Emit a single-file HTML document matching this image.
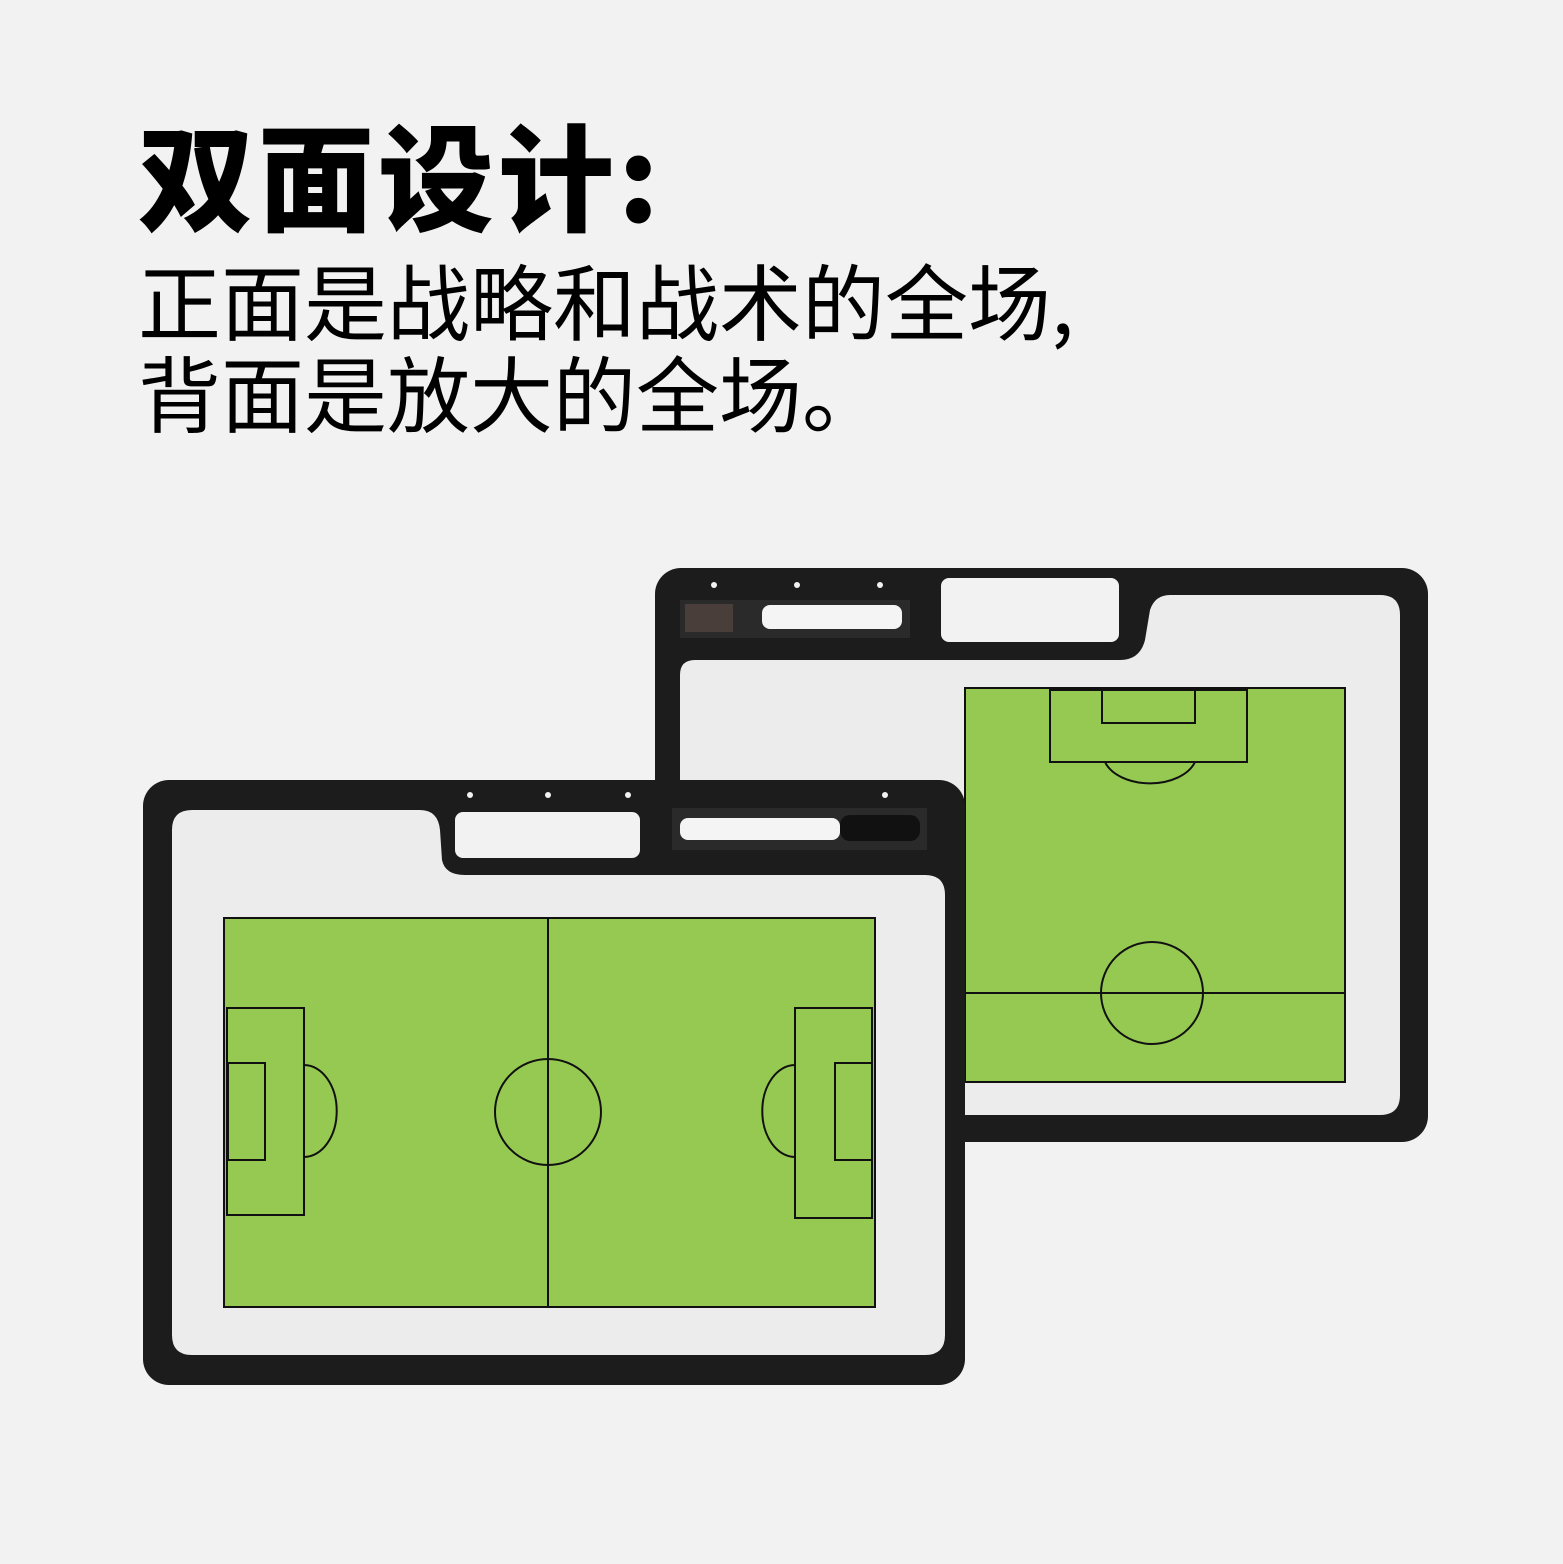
<!DOCTYPE html>
<html><head><meta charset="utf-8"><style>
html,body{margin:0;padding:0;background:#f1f2f1;}
.wrap{position:relative;width:1563px;height:1564px;overflow:hidden;background:#f1f2f1;}
.t1{position:absolute;left:138px;top:114px;font:900 116px "Noto Sans CJK SC","WenQuanYi Zen Hei",sans-serif;color:#000;letter-spacing:4px;line-height:1;}
.t2{position:absolute;left:138px;top:252px;font:400 83px "Noto Sans CJK SC","WenQuanYi Zen Hei",sans-serif;color:#000;line-height:92px;}
svg{position:absolute;left:0;top:0;}
</style></head><body><div class="wrap">
<div class="t1">双面设计:</div>
<div class="t2">正面是战略和战术的全场,<br>背面是放大的全场。</div>
<svg width="1563" height="1564" viewBox="0 0 1563 1564">
<rect x="655" y="568" width="773" height="574" rx="26" fill="#1c1c1c"/>
<path d="M680 675 Q680 660 695 660 L1120 660 Q1140 660 1145 640 L1150 610 Q1155 595 1170 595 L1380 595 Q1400 595 1400 615 L1400 1095 Q1400 1115 1380 1115 L700 1115 Q680 1115 680 1095 Z" fill="#ececec"/>
<rect x="941" y="578" width="178" height="64" rx="8" fill="#f1f2f1"/>
<rect x="680" y="600" width="230" height="38" fill="#2a2a2a"/>
<rect x="762" y="605" width="140" height="24" rx="8" fill="#f4f4f4"/>
<rect x="685" y="604" width="48" height="28" fill="#4a3e3a"/>
<rect x="965" y="688" width="380" height="394" fill="#96c952" stroke="#111" stroke-width="2"/>
<g fill="none" stroke="#111" stroke-width="2">
<line x1="965" y1="993" x2="1345" y2="993"/>
<circle cx="1152" cy="993" r="51"/>
<rect x="1050" y="690" width="197" height="72"/>
<rect x="1102" y="690" width="93" height="33"/>
<path d="M1105 762 A47 30 0 0 0 1195 762"/>
</g>
<rect x="143" y="780" width="822" height="605" rx="26" fill="#1c1c1c"/>
<path d="M172 830 Q172 810 192 810 L420 810 Q438 810 440 830 L442 860 Q445 875 465 875 L925 875 Q945 875 945 895 L945 1335 Q945 1355 925 1355 L192 1355 Q172 1355 172 1335 Z" fill="#ececec"/>
<rect x="455" y="812" width="185" height="46" rx="8" fill="#f1f2f1"/>
<rect x="672" y="808" width="255" height="42" fill="#2a2a2a"/>
<rect x="680" y="818" width="160" height="22" rx="8" fill="#f4f4f4"/>
<rect x="840" y="815" width="80" height="26" rx="10" fill="#111"/>
<rect x="224" y="918" width="651" height="389" fill="#96c952" stroke="#111" stroke-width="2"/>
<g fill="none" stroke="#111" stroke-width="2">
<line x1="548" y1="918" x2="548" y2="1307"/>
<circle cx="548" cy="1112" r="53"/>
<rect x="227" y="1008" width="77" height="207"/>
<rect x="228" y="1063" width="37" height="97"/>
<path d="M304 1065 A32 45 0 0 1 304 1157"/>
<rect x="795" y="1008" width="77" height="210"/>
<rect x="835" y="1063" width="37" height="97"/>
<path d="M795 1065 A32 45 0 0 0 795 1157"/>
</g>
<g fill="#f1f2f1">
<circle cx="470" cy="795" r="3"/><circle cx="548" cy="795" r="3"/><circle cx="628" cy="795" r="3"/><circle cx="885" cy="795" r="3"/>
<circle cx="714" cy="585" r="3"/><circle cx="797" cy="585" r="3"/><circle cx="880" cy="585" r="3"/><circle cx="953" cy="582" r="3"/><circle cx="1030" cy="582" r="3"/><circle cx="1106" cy="582" r="3"/>
</g>
</svg>
</div></body></html>
